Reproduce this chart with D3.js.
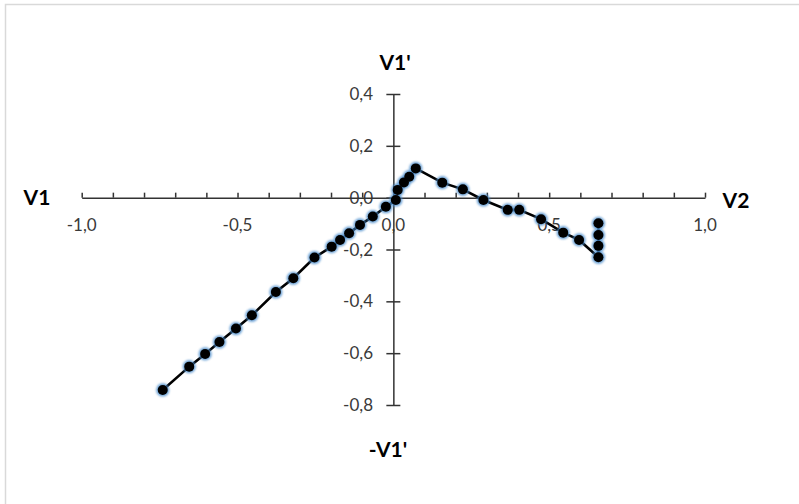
<!DOCTYPE html>
<html>
<head>
<meta charset="utf-8">
<script src="https://cdn.jsdelivr.net/npm/d3@7/dist/d3.min.js"></script>
<style>
  html, body { margin: 0; padding: 0; background: #fff; }
  svg { display: block; }
</style>
</head>
<body>
<svg id="chart" width="799" height="504"></svg>
<script>
// ---- data ----
const xValues = [-0.740, -0.655, -0.604, -0.558, -0.505, -0.454, -0.377, -0.321, -0.253, -0.198,
                 -0.171, -0.142, -0.107, -0.066, -0.024, 0.008, 0.014, 0.034, 0.051, 0.072,
                 0.157, 0.223, 0.289, 0.367, 0.404, 0.474, 0.545, 0.596, 0.658, 0.658, 0.658, 0.658];
const yValues = [-0.742, -0.652, -0.603, -0.557, -0.505, -0.454, -0.364, -0.311, -0.231, -0.189,
                 -0.163, -0.137, -0.105, -0.073, -0.035, -0.009, 0.030, 0.059, 0.081, 0.113,
                 0.058, 0.032, -0.009, -0.047, -0.047, -0.083, -0.135, -0.163, -0.230, -0.186, -0.144, -0.099];
const xTickValues = [-1.0, -0.5, 0.0, 0.5, 1.0];
const xTickLabels = ["-1,0", "-0,5", "0,0", "0,5", "1,0"];
const xMinorTicks = [-1.0,-0.9,-0.8,-0.7,-0.6,-0.5,-0.4,-0.3,-0.2,-0.1,0,0.1,0.2,0.3,0.4,0.5,0.6,0.7,0.8,0.9,1.0];
const yTickValues = [0.4, 0.2, 0.0, -0.2, -0.4, -0.6, -0.8];
const yTickLabels = ["0,4", "0,2", "0,0", "-0,2", "-0,4", "-0,6", "-0,8"];
const axisTitles = { top: "V1'", bottom: "-V1'", left: "V1", right: "V2" };

const svg = d3.select("#chart");
const font = "Lato, 'Open Sans', sans-serif";

// chart frame
svg.append("rect").attr("x", 5.5).attr("y", 4.5).attr("width", 820).attr("height", 520)
  .attr("fill", "#fff").attr("stroke", "#d9d9d9").attr("stroke-width", 1.5);

const x = d3.scaleLinear().domain([-1, 1]).range([81.7, 705]);
const y = d3.scaleLinear().domain([-0.8, 0.4]).range([405, 94]);

const axisColor = "#333";
const labelColor = "#3a3a3a";

// y-axis tick labels (drawn first so axis lines overlay)
const yl = svg.append("g").attr("font-family", font).attr("font-size", 17).attr("fill", labelColor)
  .attr("text-anchor", "end");
yTickValues.forEach((v, i) => {
  yl.append("text").attr("x", 373).attr("y", y(v)).attr("dy", "0.36em").text(yTickLabels[i]);
});
// x-axis tick labels
const xl = svg.append("g").attr("font-family", font).attr("font-size", 17).attr("fill", labelColor)
  .attr("text-anchor", "middle");
xTickValues.forEach((v, i) => {
  xl.append("text").attr("x", x(v)).attr("y", y(0) + 27).attr("dy", "0.36em").text(xTickLabels[i]);
});

// x axis: line with upward ticks every 0.1
const xAxis = d3.axisTop(x).tickValues(xMinorTicks).tickSize(5).tickSizeOuter(0).tickFormat("");
const gx = svg.append("g").attr("transform", `translate(0,${y(0)})`).call(xAxis);
gx.selectAll("path, line").attr("stroke", axisColor).attr("stroke-width", 1.5);

// y axis: line with crossing ticks
const yAxis = d3.axisLeft(y).tickValues(yTickValues).tickSize(7).tickSizeOuter(0).tickFormat("");
const gy = svg.append("g").attr("transform", `translate(${x(0)},0)`).call(yAxis);
gy.selectAll("path, line").attr("stroke", axisColor).attr("stroke-width", 1.5);
gy.selectAll(".tick line").attr("x1", 7).attr("x2", -7);

// data line
const pts = xValues.map((v, i) => [v, yValues[i]]);
svg.append("path").datum(pts)
  .attr("fill", "none").attr("stroke", "#000").attr("stroke-width", 2.6)
  .attr("d", d3.line().x(d => x(d[0])).y(d => y(d[1])));

// markers with blue glow
const defs = svg.append("defs");
defs.append("filter").attr("id", "glow").attr("x", "-50%").attr("y", "-50%").attr("width", "200%").attr("height", "200%")
  .append("feGaussianBlur").attr("stdDeviation", 1.2);
const mk = svg.append("g");
mk.selectAll("circle.halo").data(pts).join("circle").attr("class", "halo")
  .attr("cx", d => x(d[0])).attr("cy", d => y(d[1])).attr("r", 6.6)
  .attr("fill", "#4a8ccc").attr("opacity", 0.8).attr("filter", "url(#glow)");
mk.selectAll("circle.dot").data(pts).join("circle").attr("class", "dot")
  .attr("cx", d => x(d[0])).attr("cy", d => y(d[1])).attr("r", 5)
  .attr("fill", "#000");

// axis titles
const t = svg.append("g").attr("font-family", font).attr("font-size", 21).attr("font-weight", "bold")
  .attr("fill", "#000").attr("text-anchor", "middle");
t.append("text").attr("x", 395).attr("y", 62).attr("dy", "0.36em").text(axisTitles.top);
t.append("text").attr("x", 388).attr("y", 449).attr("dy", "0.36em").text(axisTitles.bottom);
t.append("text").attr("x", 37).attr("y", 197).attr("dy", "0.36em").text(axisTitles.left);
t.append("text").attr("x", 736).attr("y", 200).attr("dy", "0.36em").text(axisTitles.right);
</script>
</body>
</html>
